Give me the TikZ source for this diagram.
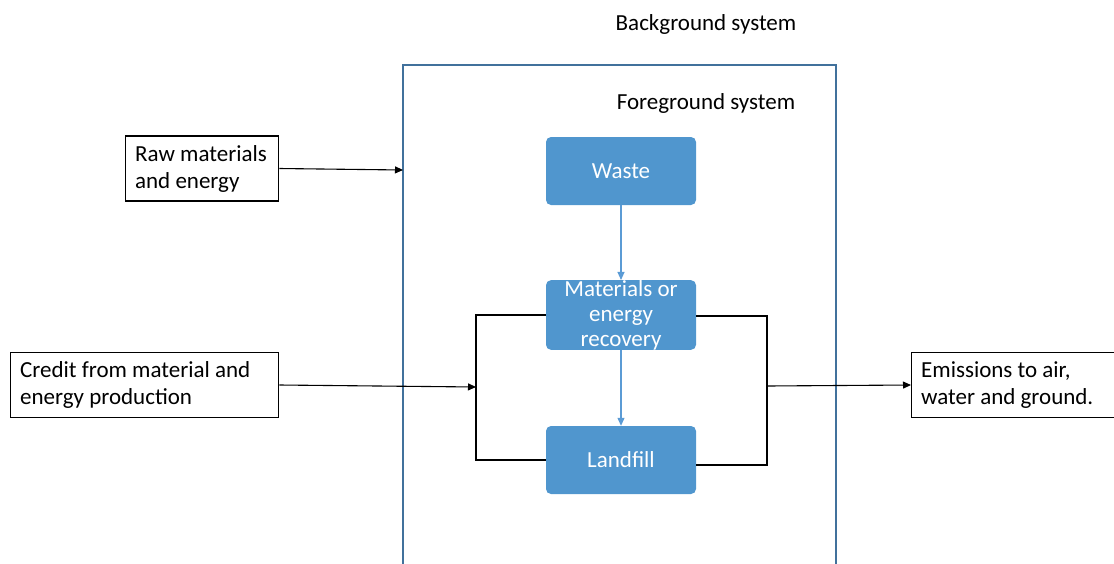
\documentclass[tikz,border=0pt]{standalone}
\usepackage{fontspec}
\setmainfont{Carlito}
\usetikzlibrary{arrows.meta}
\definecolor{boxblue}{RGB}{80,150,206}
\definecolor{frameblue}{RGB}{65,113,156}
\definecolor{arrowblue}{RGB}{91,155,213}
\tikzset{
  txt/.style={font=\fontsize{23}{27}\selectfont, text=black, inner sep=0pt},
  whitebox/.style={draw=black, line width=1.3pt, fill=white, align=flush left,
    inner xsep=9.5pt, inner ysep=0pt,
    font=\fontsize{23}{27}\selectfont, anchor=west, minimum height=65pt},
  bluebox/.style={fill=boxblue, rounded corners=5pt, text=white, align=center,
    minimum width=150pt, minimum height=68pt, inner sep=0pt,
    font=\fontsize{23}{25}\selectfont},
  blk/.style={draw=black, line width=1.1pt},
  blkarrow/.style={blk, -{Triangle[length=8pt,width=7pt]}},
  bluearrow/.style={draw=arrowblue, line width=1.1pt, -{Triangle[length=8pt,width=7pt]}},
}
\begin{document}
\begin{tikzpicture}[x=1pt,y=-1pt]
\useasboundingbox (0,0) rectangle (1114,563);
% foreground system frame (open at bottom)
\draw[frameblue, line width=2.2pt] (403,580) -- (403,65) -- (836,65) -- (836,580);
\node[txt] (bg) at (706,24) {Background system};
\node[txt] (fg) at (706,103) {Foreground system};
% blue boxes
\node[bluebox] (waste) at (621,171) {Waste};
\node[bluebox] (mat) at (621,315) {Materials or\\energy\\recovery};
\node[bluebox] (land) at (621,460) {Landfill};
\draw[bluearrow] (waste.south) -- (mat.north);
\draw[bluearrow] (mat.south) -- (land.north);
% white boxes
\node[whitebox, text width=134pt] (raw) at (125,168.5) {Raw materials\\and energy};
\node[whitebox, text width=249pt] (credit) at (10,385) {Credit from material and\\energy production};
\node[whitebox, text width=200pt] (emis) at (911,385) {Emissions to air,\\water and ground.};
% brackets
\coordinate (lt) at (476,315);
\coordinate (lb) at (476,460);
\coordinate (lm) at (476,387);
\coordinate (rt) at (767,316);
\coordinate (rb) at (767,465);
\coordinate (rm) at (767,386);
\coordinate (fgin) at (403,170);
\draw[blk] (mat.west |- lt) -- (lt) -- (lb) -- (land.west |- lb);
\draw[blk] (mat.east |- rt) -- (rt) -- (rb) -- (land.east |- rb);
% arrows
\draw[blkarrow] (raw.east) -- (fgin);
\draw[blkarrow] (credit.east) -- (lm);
\draw[blkarrow] (rm) -- (emis.west);
\end{tikzpicture}
\end{document}
